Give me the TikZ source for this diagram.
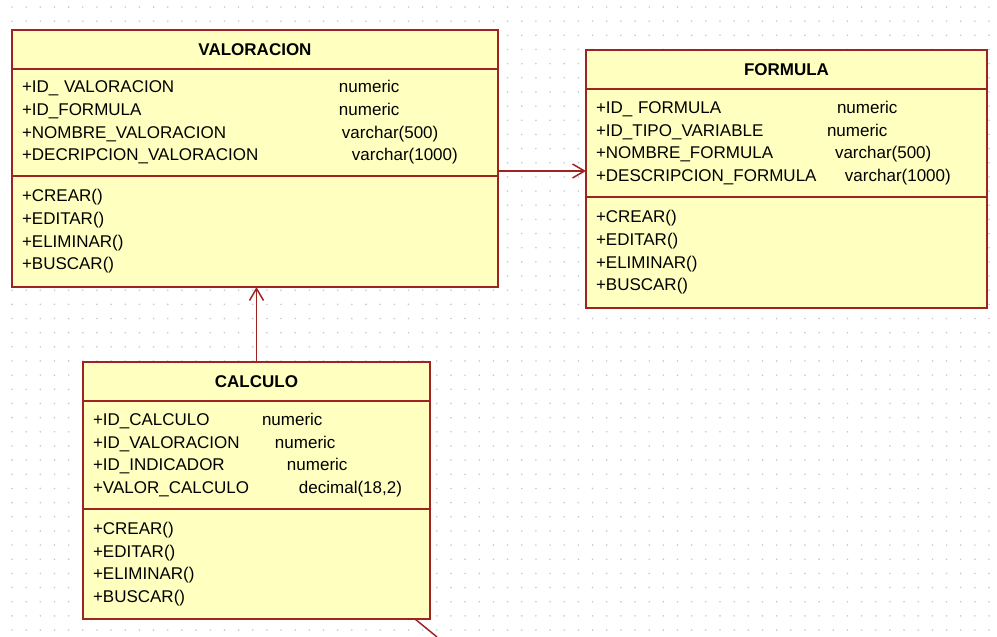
\documentclass[tikz,border=0pt]{standalone}
\usepackage{fontspec}
\setmainfont{Liberation Sans}
\usetikzlibrary{arrows.meta}
\definecolor{umlred}{RGB}{158,36,36}
\definecolor{umlfill}{RGB}{255,255,192}
\definecolor{griddot}{RGB}{200,200,200}

\begin{document}
\begin{tikzpicture}[x=1pt,y=-1pt,
  box/.style={draw=umlred,fill=umlfill,line width=1.5pt,anchor=north west,inner xsep=10pt,inner ysep=0pt,outer sep=0pt},
  head/.style={box,align=center,font=\fontsize{17}{20}\selectfont\bfseries},
  list/.style={box,align=left,font=\fontsize{17}{22.7}\selectfont},
  link/.style={draw=umlred,line width=1.5pt,-{Straight Barb[length=12pt,width=14pt]}}]
\useasboundingbox (0,0) rectangle (997,637);
\foreach \i in {0,...,69}
  \foreach \j in {0,...,44}
    \fill[griddot] (12+\i*14.16,7+\j*14.16) circle (0.9);

\node[head,text width=466pt,minimum height=39pt] (vt) at (12,30) {VALORACION};
\node[list,text width=466pt,minimum height=107pt] (va) at (vt.south west) {%
  \makebox[317pt][l]{+ID\_ VALORACION}numeric\\
  \makebox[317pt][l]{+ID\_FORMULA}numeric\\
  \makebox[320pt][l]{+NOMBRE\_VALORACION}varchar(500)\\
  \makebox[330pt][l]{+DECRIPCION\_VALORACION}varchar(1000)};
\node[list,text width=466pt,minimum height=111pt] (vm) at (va.south west) {+CREAR()\\+EDITAR()\\+ELIMINAR()\\+BUSCAR()};

\node[head,text width=381pt,minimum height=39pt] (ft) at (586,50) {FORMULA};
\node[list,text width=381pt,minimum height=108pt] (fa) at (ft.south west) {%
  \makebox[241pt][l]{+ID\_ FORMULA}numeric\\
  \makebox[231pt][l]{+ID\_TIPO\_VARIABLE}numeric\\
  \makebox[239pt][l]{+NOMBRE\_FORMULA}varchar(500)\\
  \makebox[249pt][l]{+DESCRIPCION\_FORMULA}varchar(1000)};
\node[list,text width=381pt,minimum height=111pt] (fm) at (fa.south west) {+CREAR()\\+EDITAR()\\+ELIMINAR()\\+BUSCAR()};

\node[head,text width=327pt,minimum height=39pt] (ct) at (83,362) {CALCULO};
\node[list,text width=327pt,minimum height=108pt] (ca) at (ct.south west) {%
  \makebox[169pt][l]{+ID\_CALCULO}numeric\\
  \makebox[182pt][l]{+ID\_VALORACION}numeric\\
  \makebox[194pt][l]{+ID\_INDICADOR}numeric\\
  \makebox[206pt][l]{+VALOR\_CALCULO}decimal(18,2)};
\node[list,text width=327pt,minimum height=110pt] (cm) at (ca.south west) {+CREAR()\\+EDITAR()\\+ELIMINAR()\\+BUSCAR()};

\draw[link] ([yshift=5pt]va.south east) -- ([yshift=5pt]va.south east -| fa.west);
\draw[link] (ct.north) -- (ct.north |- vm.south);
\coordinate (off) at (437,637);
\draw[umlred,line width=1.5pt] ([xshift=-15pt]cm.south east) -- (off);
\end{tikzpicture}
\end{document}
